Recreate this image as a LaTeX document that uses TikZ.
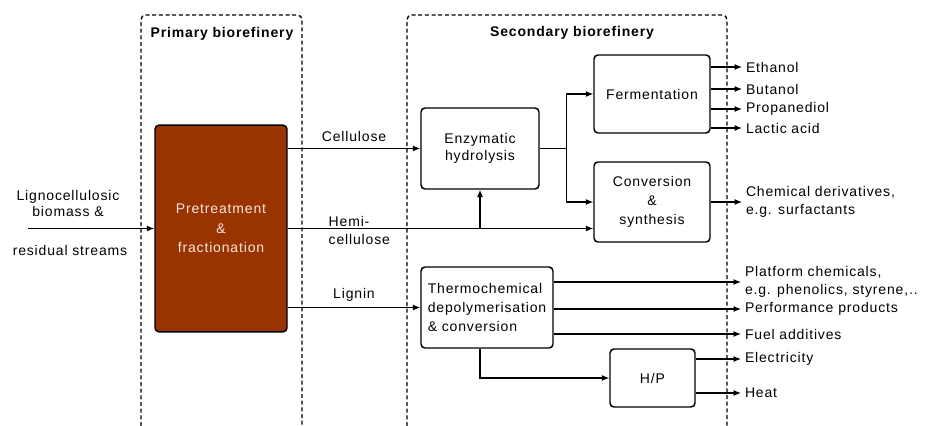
\documentclass[tikz,border=0pt]{standalone}
\usepackage{fontspec}
\setmainfont{Liberation Sans}[LetterSpace=6]
\usepackage{tikz}
\usetikzlibrary{positioning, calc, arrows.meta}

\definecolor{pretreatbrown}{RGB}{153,51,0}
\definecolor{pretreattext}{RGB}{250,230,222}

\begin{document}
\begin{tikzpicture}[x=0.75pt, y=-0.75pt,
    font=\fontsize{10.5}{14.5}\selectfont,
    procbox/.style={draw, line width=1.1pt, rounded corners=3pt, inner sep=0pt, align=center},
    zone/.style={line width=1pt, dash pattern=on 3pt off 2pt, rounded corners=3.5pt},
    zonetitle/.style={font=\fontsize{10.5}{13}\selectfont\bfseries},
    flow/.style={line width=0.9pt, -{Latex[length=5.5pt,width=4.5pt]}},
    link/.style={line width=0.9pt},
    streamlbl/.style={anchor=west, inner sep=0pt, outer sep=3pt, align=left, font=\fontsize{10.5}{13.5}\selectfont}]
    \useasboundingbox (0,0) rectangle (925,425);
    % Zones
    \draw[zone] (141,426) -- (141,15) -- (302,15) -- (302,426);
    \draw[zone] (407,426) -- (407,15) -- (727,15) -- (727,426);
    \node[zonetitle] (prim) at (222,34) {Primary biorefinery};
    \node[zonetitle] (sec) at (572,33) {Secondary biorefinery};
    % Process boxes
    \node[procbox, fill=pretreatbrown, text=pretreattext, minimum width=99pt, minimum height=155pt] (pre) at (221,228.5) {Pretreatment\\\&\\fractionation};
    \node[procbox, font=\fontsize{10.5}{12.75}\selectfont, minimum width=88.5pt, minimum height=60.75pt] (enz) at (480,148.5) {Enzymatic\\hydrolysis};
    \node[procbox, minimum width=87pt, minimum height=58.5pt] (ferm) at (652,94) {Fermentation};
    \node[procbox, minimum width=87pt, minimum height=60pt] (conv) at (652,202) {Conversion\\\&\\synthesis};
    \node[procbox, align=left, minimum width=99pt, minimum height=60.75pt] (thermo) at (487,307.5) {Thermochemical\\depolymerisation\\\& conversion};
    \node[procbox, minimum width=63.75pt, minimum height=43.5pt] (hp) at (652.5,378) {H/P};
    % Feedstock
    \coordinate (src) at (28,228.5);
    \node[align=center, font=\fontsize{10.5}{12}\selectfont] (feed) at (68,203) {Lignocellulosic\\biomass \&};
    \node (resid) at (70,250) {residual streams};
    \draw[flow] (src) -- (pre.west);
    % Fractions
    \draw[flow] (pre.east |- enz.west) -- node[above=1pt] (cell) {Cellulose} (enz.west);
    \coordinate (hb) at (enz.south |- pre.east);
    \draw[flow] (pre.east) -- (conv.west |- pre.east);
    \draw[flow] (hb) -- (enz.south);
    \node[anchor=west, align=left, font=\fontsize{10.5}{13.5}\selectfont] (hemi) at (324,230) {Hemi-\\cellulose};
    \draw[flow] (pre.east |- thermo.west) -- node[above=1pt] (lig) {Lignin} (thermo.west);
    % Sugars split
    \coordinate[right=20.25pt of enz.east] (sp);
    \draw[link] (enz.east) -- (sp);
    \draw[flow] (sp) |- (ferm.west);
    \draw[flow] (sp) |- (conv.west);
    % Products
    \foreach \prod/\yy/\nm in {Ethanol/67/eth, Butanol/89/but, Propanediol/109/prop, Lactic acid/128/lac} {
        \node[streamlbl] (\nm) at (742,\yy) {\prod};
        \draw[flow] (ferm.east |- \nm.west) -- (\nm.west);
    }
    \node[streamlbl] (chem) at (742,202) {Chemical derivatives,\\e.g. surfactants};
    \draw[flow] (conv.east |- chem.west) -- (chem.west);
    \node[streamlbl] (plat) at (741,282) {Platform chemicals,\\e.g. phenolics, styrene,..};
    \node[streamlbl] (perf) at (741,309) {Performance products};
    \node[streamlbl] (fuel) at (741,334) {Fuel additives};
    \foreach \nm in {plat, perf, fuel} {\draw[flow] (thermo.east |- \nm.west) -- (\nm.west);}
    \draw[flow] (enz.south |- thermo.south) |- (hp.west);
    \node[streamlbl] (elec) at (741,359) {Electricity};
    \node[streamlbl] (heat) at (741,393) {Heat};
    \draw[flow] (hp.east |- elec.west) -- (elec.west);
    \draw[flow] (hp.east |- heat.west) -- (heat.west);
\end{tikzpicture}
\end{document}
